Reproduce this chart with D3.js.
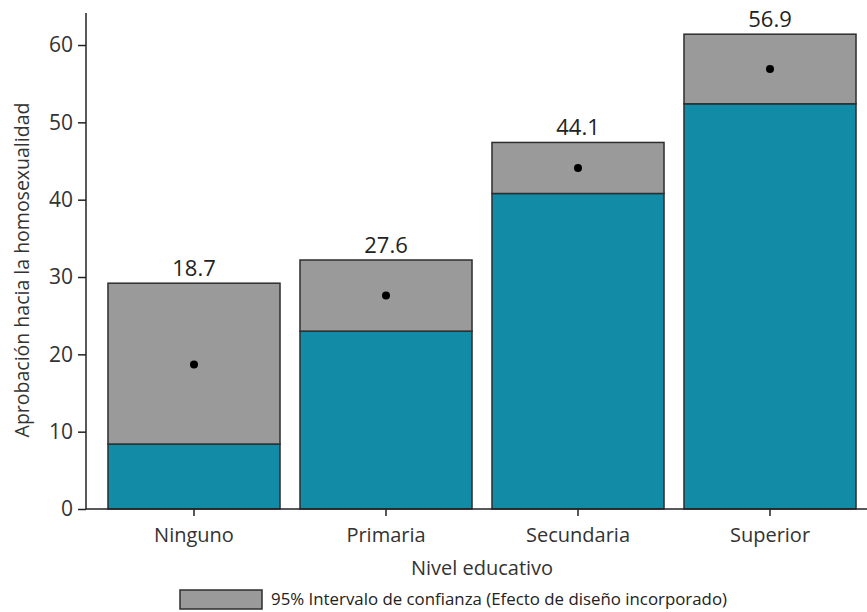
<!DOCTYPE html>
<html>
<head>
<meta charset="utf-8">
<script src="https://cdn.jsdelivr.net/npm/d3@7"></script>
<style>
  body { margin: 0; background: #fff; }
  svg { display: block; font-family: "Open Sans", "Noto Sans", sans-serif; }
</style>
</head>
<body>
<svg id="chart" width="867" height="612"></svg>
<script>
// Education levels and approval estimates with 95% CI bounds
const categories = ["Ninguno", "Primaria", "Secundaria", "Superior"];
const estimates  = [18.7, 27.6, 44.1, 56.9];
const ciLower    = [8.4, 23.0, 40.8, 52.4];
const ciUpper    = [29.2, 32.2, 47.4, 61.4];
const yTicks     = [0, 10, 20, 30, 40, 50, 60];

const svg = d3.select("#chart");
const plotLeft = 86, plotBottom = 509, plotTop = 13, plotRight = 867;

const x = d3.scaleBand()
  .domain(categories)
  .range([98, 866])
  .paddingInner(0.104)
  .paddingOuter(0.052);

const y = d3.scaleLinear()
  .domain([0, 64.14])
  .range([plotBottom, plotTop]);

const teal = "#128ba6", grey = "#9a9a9a", edge = "#2e2e2e", ink = "#333";

const rows = categories.map((c, i) => ({
  cat: c, est: estimates[i], lo: ciLower[i], hi: ciUpper[i]
}));

// Bars: teal from 0 to lower bound, grey CI band from lower to upper bound
const g = svg.append("g");
g.selectAll("rect.base").data(rows).join("rect")
  .attr("class", "base")
  .attr("x", d => x(d.cat))
  .attr("width", x.bandwidth())
  .attr("y", d => y(d.lo))
  .attr("height", d => y(0) - y(d.lo))
  .attr("fill", teal)
  .attr("stroke", edge)
  .attr("stroke-width", 1.5);

g.selectAll("rect.ci").data(rows).join("rect")
  .attr("class", "ci")
  .attr("x", d => x(d.cat))
  .attr("width", x.bandwidth())
  .attr("y", d => y(d.hi))
  .attr("height", d => y(d.lo) - y(d.hi))
  .attr("fill", grey)
  .attr("stroke", edge)
  .attr("stroke-width", 1.5);

// Point estimates
g.selectAll("circle").data(rows).join("circle")
  .attr("cx", d => x(d.cat) + x.bandwidth() / 2)
  .attr("cy", d => y(d.est))
  .attr("r", 4)
  .attr("fill", "#000");

// Value labels above each bar
g.selectAll("text.val").data(rows).join("text")
  .attr("class", "val")
  .attr("x", d => x(d.cat) + x.bandwidth() / 2)
  .attr("y", d => y(d.hi) - 7)
  .attr("text-anchor", "middle")
  .attr("font-size", 22)
  .attr("fill", "#222")
  .text(d => d.est.toFixed(1));

// Y axis
const yAxis = svg.append("g")
  .attr("transform", `translate(${plotLeft},0)`)
  .call(d3.axisLeft(y).tickValues(yTicks).tickSize(8).tickPadding(5).tickSizeOuter(0));
yAxis.select(".domain").attr("stroke", "#222").attr("stroke-width", 1.5)
  .attr("d", `M0,${plotTop}V${plotBottom}`);
yAxis.selectAll(".tick line").attr("stroke", "#222").attr("stroke-width", 1.5);
yAxis.selectAll(".tick text").attr("font-size", 21).attr("fill", ink)
  .attr("font-family", "Open Sans, sans-serif");

// X axis
const xAxis = svg.append("g")
  .attr("transform", `translate(0,${plotBottom})`)
  .call(d3.axisBottom(x).tickSize(7).tickPadding(12).tickSizeOuter(0));
xAxis.select(".domain").attr("stroke", "#222").attr("stroke-width", 1.5)
  .attr("d", `M${plotLeft},0H${plotRight}`);
xAxis.selectAll(".tick line").attr("stroke", "#222").attr("stroke-width", 1.5);
xAxis.selectAll(".tick text").attr("font-size", 20).attr("fill", ink)
  .attr("font-family", "Open Sans, sans-serif");

// Axis titles
svg.append("text")
  .attr("x", 482).attr("y", 575)
  .attr("text-anchor", "middle")
  .attr("font-size", 20).attr("fill", ink)
  .text("Nivel educativo");

svg.append("text")
  .attr("transform", "translate(29,270) rotate(-90)")
  .attr("text-anchor", "middle")
  .attr("font-size", 19.5).attr("fill", ink)
  .text("Aprobación hacia la homosexualidad");

// Legend
svg.append("rect")
  .attr("x", 180).attr("y", 590).attr("width", 82).attr("height", 19)
  .attr("fill", grey).attr("stroke", edge).attr("stroke-width", 1.5);
svg.append("text")
  .attr("x", 271).attr("y", 605)
  .attr("font-size", 15.5).attr("fill", "#222")
  .attr("textLength", 456).attr("lengthAdjust", "spacingAndGlyphs")
  .text("95% Intervalo de confianza (Efecto de diseño incorporado)");
</script>
</body>
</html>
